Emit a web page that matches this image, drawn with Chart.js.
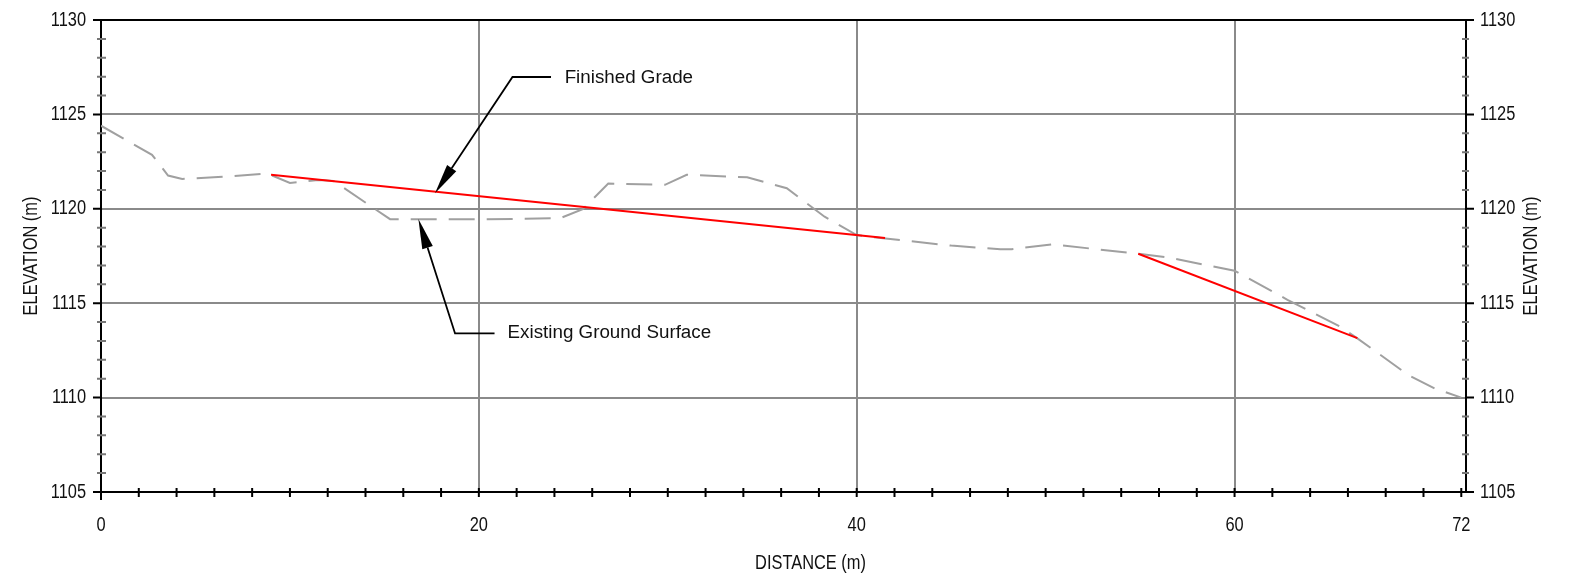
<!DOCTYPE html>
<html>
<head>
<meta charset="utf-8">
<script src="https://cdn.jsdelivr.net/npm/chart.js@4.4.1/dist/chart.umd.min.js"></script>
<style>
  body { margin: 0; background: #fff; }
</style>
</head>
<body>
<canvas id="profile" width="1571" height="578"></canvas>
<script>
// existing ground surface (dashed grey)
const groundDist = [0, 2.7, 3.55, 4.3, 6.2, 8.8, 10.0, 11.5, 12.3, 15.3, 20, 24.3, 25.5, 26.85, 29.85, 31.0, 34.2, 36.3, 38.3, 40.0, 41.4, 45.0, 47.6, 48.2, 50.4, 52.5, 54.9, 56.5, 60.0, 62.8, 65.6, 66.5, 69.2, 70.6, 72]
const groundElev = [1124.4, 1122.86, 1121.76, 1121.58, 1121.68, 1121.87, 1121.37, 1121.53, 1121.48, 1119.45, 1119.44, 1119.5, 1119.98, 1121.34, 1121.27, 1121.8, 1121.67, 1121.09, 1119.58, 1118.61, 1118.44, 1118.05, 1117.86, 1117.86, 1118.12, 1117.88, 1117.62, 1117.42, 1116.72, 1115.18, 1113.75, 1113.14, 1111.19, 1110.48, 1110.0]

// finished grade, two red pieces
const gradeDistA = [9.0, 41.5]
const gradeElevA = [1121.8, 1118.45]
const gradeDistB = [54.9, 66.5]
const gradeElevB = [1117.62, 1113.15]

const xTicks = [0, 20, 40, 60, 72]
const xGridAt = [20, 40, 60]
const xMinorTicks = [2, 4, 6, 8, 10, 12, 14, 16, 18, 20, 22, 24, 26, 28, 30, 32, 34, 36, 38, 40, 42, 44, 46, 48, 50, 52, 54, 56, 58, 60, 62, 64, 66, 68, 70, 72]
const yTicks = [1105, 1110, 1115, 1120, 1125, 1130]
const yGridAt = [1110, 1115, 1120, 1125]
const yMinorTicks = [1106, 1107, 1108, 1109, 1111, 1112, 1113, 1114, 1116, 1117, 1118, 1119, 1121, 1122, 1123, 1124, 1126, 1127, 1128, 1129]

// callouts: [text, textX, textY, lineEndX, elbowX, elbowY, tipX, tipY]
const callouts = [
    ['Finished Grade', 24.54, 1126.93, 23.82, 21.78, 1126.98, 17.68, 1120.83],
    ['Existing Ground Surface', 21.52, 1113.45, 20.83, 18.74, 1113.4, 16.8, 1119.46]
]

const labelFont = "20px 'Liberation Sans', Arial"
const narrow = 0.82
const gridColor = '#8a8a8a'

const toPoints = (xs, ys) => xs.map((x, i) => ({x: x, y: ys[i]}))

// text squeezed sideways, like the narrow face of the original
function narrowText(ctx, text, x, y, align, rot){
    ctx.save()
    ctx.translate(x, y)
    if(rot) ctx.rotate(rot)
    ctx.scale(narrow, 1)
    ctx.textAlign = align
    ctx.fillText(text, 0, 0)
    ctx.restore()
}

const frameAndTicks = {
    id: 'frameAndTicks',
    afterDatasetsDraw(chart){
        const ctx = chart.ctx
        const area = chart.chartArea
        const xs = chart.scales.x
        const ys = chart.scales.y

        ctx.save()
        ctx.lineWidth = 2
        ctx.strokeStyle = '#000'
        ctx.beginPath()
        ctx.moveTo(area.left - 1, area.top)
        ctx.lineTo(area.right + 1, area.top)
        ctx.stroke()

        // major y ticks, both sides
        yTicks.forEach(v => {
            const py = ys.getPixelForValue(v)
            ctx.beginPath()
            ctx.moveTo(area.left - 8, py); ctx.lineTo(area.left, py)
            ctx.moveTo(area.right, py); ctx.lineTo(area.right + 8, py)
            ctx.stroke()
        })
        // x minor ticks
        xMinorTicks.forEach(v => {
            const px = xs.getPixelForValue(v)
            ctx.beginPath()
            ctx.moveTo(px, area.bottom - 4); ctx.lineTo(px, area.bottom + 5)
            ctx.stroke()
        })
        ctx.beginPath()
        ctx.moveTo(area.left, area.bottom); ctx.lineTo(area.left, area.bottom + 8)
        ctx.stroke()

        // y minor ticks (grey)
        ctx.strokeStyle = '#777'
        yMinorTicks.forEach(v => {
            const py = ys.getPixelForValue(v)
            ctx.beginPath()
            ctx.moveTo(area.left - 4, py); ctx.lineTo(area.left + 5, py)
            ctx.moveTo(area.right - 4, py); ctx.lineTo(area.right + 3, py)
            ctx.stroke()
        })

        // tick labels from the scales
        ctx.fillStyle = '#111'
        ctx.font = labelFont
        ctx.textBaseline = 'middle'
        ys.ticks.forEach(t => {
            const py = ys.getPixelForValue(t.value)
            narrowText(ctx, String(t.value), area.left - 15, py, 'right')
            narrowText(ctx, String(t.value), area.right + 14, py, 'left')
        })
        xs.ticks.forEach(t => {
            narrowText(ctx, String(t.value), xs.getPixelForValue(t.value), area.bottom + 33, 'center')
        })

        // axis titles
        const midY = (area.top + area.bottom) / 2
        narrowText(ctx, 'DISTANCE (m)', (area.left + area.right) / 2 + 27, area.bottom + 71, 'center')
        narrowText(ctx, 'ELEVATION (m)', area.left - 70, midY, 'center', -Math.PI / 2)
        narrowText(ctx, 'ELEVATION (m)', area.right + 65, midY, 'center', -Math.PI / 2)

        // callouts
        ctx.strokeStyle = '#000'
        ctx.lineWidth = 1.8
        callouts.forEach(c => {
            const ex = xs.getPixelForValue(c[3])
            const bx = xs.getPixelForValue(c[4]), by = ys.getPixelForValue(c[5])
            const tx = xs.getPixelForValue(c[6]), ty = ys.getPixelForValue(c[7])
            const ang = Math.atan2(ty - by, tx - bx)
            const headLen = 30, headW = 5.5
            const baseX = tx - headLen * Math.cos(ang), baseY = ty - headLen * Math.sin(ang)
            ctx.beginPath()
            ctx.moveTo(ex, by); ctx.lineTo(bx, by); ctx.lineTo(baseX, baseY)
            ctx.stroke()
            ctx.fillStyle = '#000'
            ctx.beginPath()
            ctx.moveTo(tx, ty)
            ctx.lineTo(baseX + headW * Math.sin(ang), baseY - headW * Math.cos(ang))
            ctx.lineTo(baseX - headW * Math.sin(ang), baseY + headW * Math.cos(ang))
            ctx.closePath()
            ctx.fill()

            ctx.font = "18.8px 'Liberation Sans', Arial"
            ctx.textAlign = 'left'
            ctx.textBaseline = 'middle'
            ctx.fillStyle = '#111'
            ctx.fillText(c[0], xs.getPixelForValue(c[1]), ys.getPixelForValue(c[2]))
        })
        ctx.restore()
    }
}

const hiddenTicks = {display: false}

new Chart(document.getElementById('profile'), {
    type: 'line',
    data: {
        datasets: [
            {
                label: 'Finished Grade',
                data: toPoints(gradeDistA, gradeElevA),
                borderColor: '#ff0000',
                borderWidth: 2,
                order: 0
            },
            {
                label: 'Finished Grade 2',
                data: toPoints(gradeDistB, gradeElevB),
                borderColor: '#ff0000',
                borderWidth: 2,
                order: 0
            },
            {
                label: 'Existing Ground Surface',
                data: toPoints(groundDist, groundElev),
                borderColor: '#a0a0a0',
                borderWidth: 2,
                borderDash: [26, 12],
                order: 1
            }
        ]
    },
    options: {
        responsive: false,
        animation: false,
        devicePixelRatio: 1,
        elements: {point: {radius: 0}, line: {tension: 0}},
        layout: {padding: {top: 20, left: 0, right: 0, bottom: 0}},
        plugins: {legend: {display: false}, tooltip: {enabled: false}},
        scales: {
            x: {
                type: 'linear',
                position: 'bottom',
                min: 0,
                max: 72.25,
                afterBuildTicks: s => { s.ticks = xTicks.map(v => ({value: v})) },
                afterFit: s => { s.height = 86 },
                grid: {
                    drawTicks: false,
                    lineWidth: 2,
                    color: c => xGridAt.includes(c.tick && c.tick.value) ? gridColor : 'rgba(0,0,0,0)'
                },
                border: {display: true, color: '#000', width: 2},
                ticks: hiddenTicks
            },
            y: {
                position: 'left',
                min: 1105,
                max: 1130,
                afterBuildTicks: s => { s.ticks = yTicks.map(v => ({value: v})) },
                afterFit: s => { s.width = 101 },
                grid: {
                    drawTicks: false,
                    lineWidth: 2,
                    color: c => yGridAt.includes(c.tick && c.tick.value) ? gridColor : 'rgba(0,0,0,0)'
                },
                border: {display: true, color: '#000', width: 2},
                ticks: hiddenTicks
            },
            y2: {
                position: 'right',
                min: 1105,
                max: 1130,
                afterBuildTicks: s => { s.ticks = yTicks.map(v => ({value: v})) },
                afterFit: s => { s.width = 105 },
                grid: {display: false, drawTicks: false},
                border: {display: true, color: '#000', width: 2},
                ticks: hiddenTicks
            }
        }
    },
    plugins: [frameAndTicks]
})
</script>
</body>
</html>
